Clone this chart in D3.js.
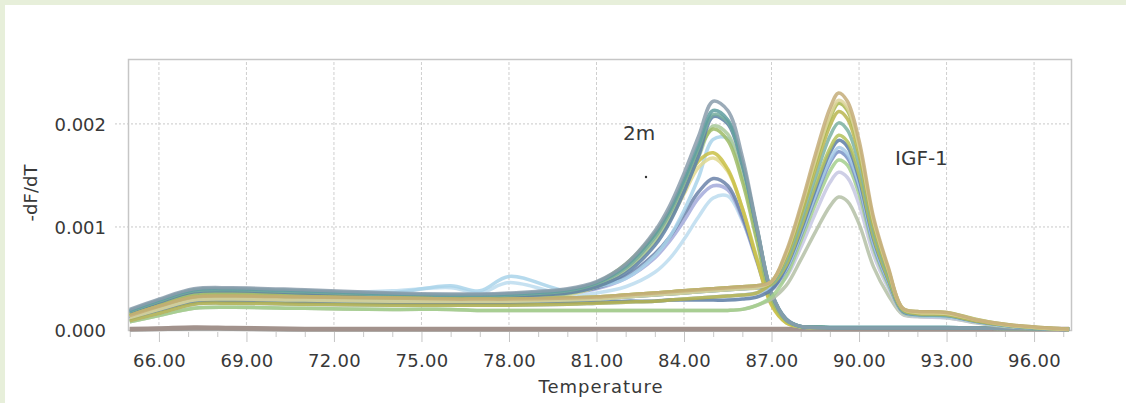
<!DOCTYPE html>
<html>
<head>
<meta charset="utf-8">
<script src="https://cdn.jsdelivr.net/npm/d3@7"></script>
<style>
  html, body { margin: 0; padding: 0; background: #e7efda; }
  svg { display: block; }
  text { font-family: "DejaVu Sans", Verdana, sans-serif; fill: #383838; }
</style>
</head>
<body>
<svg id="chart" width="1126" height="403"></svg>
<script>
// Melt-curve derivative (-dF/dT) per well; values are in units of 1e-4.
const temperatures = [65, 66, 67.2, 68.5, 71, 74, 76, 77, 78, 80, 81, 82, 83, 83.5, 84, 84.5, 85, 85.5, 86, 86.5, 87, 87.5, 88, 88.5, 89, 89.3, 89.6, 90, 90.5, 91, 91.5, 92, 93, 94, 95, 96, 97.2];

// β2-microglobulin (2m) wells, product peak near 85 °C
const m2A = [2.0,3.0,4.0,4.1,3.9,3.6,3.5,3.5,3.6,4.0,4.7,6.4,9.6,12.0,15.2,18.8,22.2,21.3,16.8,10.0,3.6,1.0,0.35, 0.25,0.2,0.2,0.2,0.2,0.2,0.2,0.2,0.2,0.2,0.2,0.15,0.15,0.1];
const m2B = [1.9,2.9,3.9,4.0,3.8,3.5,3.4,3.4,3.5,3.9,4.6,6.2,9.3,11.6,14.6,18.0,21.3,20.4,16.2,9.8,3.5,1.0,0.35, 0.3,0.25,0.25,0.25,0.25,0.25,0.25,0.25,0.25,0.25,0.2,0.2,0.15,0.1];
const m2C = [1.7,2.7,3.7,3.8,3.6,3.3,3.2,3.2,3.3,3.6,4.2,5.5,8.2,10.4,13.4,16.9,20.7,20.0,16.0,9.8,3.6,1.1,0.35, 0.25,0.2,0.2,0.2,0.2,0.2,0.2,0.2,0.2,0.2,0.2,0.15,0.15,0.1];
const m2D = [1.5,2.4,3.3,3.4,3.3,3.1,3.0,3.0,3.1,3.5,4.2,5.8,8.6,10.8,13.6,16.8,19.8,19.0,15.0,9.0,3.2,1.0,0.3, 0.25,0.2,0.2,0.2,0.2,0.2,0.2,0.2,0.2,0.2,0.2,0.15,0.15,0.1];
const m2E = [1.6,2.5,3.4,3.5,3.4,3.6,4.3,3.8,5.2,3.8,4.2,5.0,7.2,9.0,11.6,14.8,18.5,18.6,15.2,9.4,3.4,1.0,0.3, 0.3,0.25,0.25,0.25,0.25,0.25,0.25,0.25,0.25,0.25,0.2,0.2,0.15,0.1];
const m2F = [1.4,2.2,3.0,3.1,3.0,2.9,2.9,2.9,3.0,3.6,4.5,6.3,9.2,11.2,13.8,16.4,17.2,15.6,11.8,6.8,2.4,0.7,0.3, 0.25,0.2,0.2,0.2,0.2,0.2,0.2,0.2,0.2,0.2,0.2,0.15,0.15,0.1];
const m2G = [1.3,2.1,2.9,3.0,2.9,2.8,2.8,2.8,2.9,3.4,4.2,5.8,8.6,10.6,13.2,15.8,16.7,15.4,11.8,7.0,2.5,0.7,0.3, 0.25,0.2,0.2,0.2,0.2,0.2,0.2,0.2,0.2,0.2,0.2,0.15,0.15,0.1];
const m2H = [1.8,2.8,3.7,3.8,3.6,3.3,3.2,3.2,3.3,3.6,4.1,5.2,7.4,9.0,11.2,13.4,14.7,14.0,11.0,6.8,2.6,0.8,0.3, 0.25,0.2,0.2,0.2,0.2,0.2,0.2,0.2,0.2,0.2,0.2,0.15,0.15,0.1];
const m2I = [1.6,2.5,3.4,3.5,3.4,3.2,3.3,3.4,3.5,3.6,4.0,5.0,7.0,8.6,10.6,12.8,14.0,13.6,10.8,6.6,2.6,0.8,0.3, 0.25,0.2,0.2,0.2,0.2,0.2,0.2,0.2,0.2,0.2,0.2,0.15,0.15,0.1];
const m2J = [1.5,2.4,3.3,3.4,3.5,3.8,4.1,3.6,4.6,3.4,3.6,4.2,5.6,6.9,8.8,11.0,12.8,13.0,10.6,6.8,2.8,0.9,0.3, 0.3,0.25,0.25,0.25,0.25,0.25,0.25,0.25,0.25,0.25,0.2,0.2,0.15,0.1];
const m2K = [1.6,2.6,3.5,3.6,3.5,3.3,3.2,3.2,3.3,3.8,4.6,6.4,9.4,11.6,14.4,17.4,19.5,18.4,14.4,8.6,3.0,0.9,0.3, 0.25,0.2,0.2,0.2,0.2,0.2,0.2,0.2,0.2,0.2,0.2,0.15,0.15,0.1];
const m2L = [1.8,2.8,3.8,3.9,3.7,3.4,3.3,3.3,3.4,3.8,4.5,6.0,9.0,11.3,14.3,17.7,20.9,20.2,16.2,9.9,3.6,1.0,0.35, 0.3,0.25,0.25,0.25,0.25,0.25,0.25,0.25,0.25,0.25,0.2,0.2,0.15,0.1];

// IGF-1 wells, product peak near 89.3 °C
const igfA = [1.4,2.3,3.2,3.3,3.2,3.1,3.0,3.0,3.0,3.1,3.2,3.4,3.6,3.7,3.8,3.9,4.0,4.1,4.2,4.3, 4.7,7.6,12.0,17.0,21.5,23.0,22.2,18.4,10.9,6.1,2.1, 1.8,1.7,1.0,0.55,0.3,0.08];
const igfB = [1.2,2.0,2.9,3.0,2.9,2.8,2.8,2.8,2.8,2.9,3.0,3.2,3.4,3.5,3.6,3.7,3.8,3.9,4.0,4.1, 4.7,7.4,11.7,16.5,20.8,22.3,21.6,17.8,10.6,5.9,2.1, 1.7,1.6,1.0,0.5,0.25,0.06];
const igfC = [0.9,1.6,2.5,2.6,2.5,2.4,2.4,2.4,2.4,2.5,2.6,2.7,2.8,2.9,3.0,3.1,3.2,3.3,3.4,3.6, 4.6,7.1,11.1,15.6,19.8,21.2,20.5,17.0,10.1,5.7,2.0, 1.6,1.5,0.9,0.5,0.25,0.05];
const igfD = [1.2,2.0,2.9,3.0,2.9,2.8,2.8,2.8,2.8,2.9,3.0,3.2,3.4,3.5,3.6,3.7,3.8,3.9,4.0,4.1, 4.5,6.7,10.5,14.8,18.8,20.1,19.4,16.1,9.6,5.4,1.9, 1.5,1.4,0.9,0.45,0.2,0.05];
const igfE = [1.4,2.3,3.2,3.3,3.2,3.1,3.0,3.0,3.0,3.1,3.2,3.4,3.6,3.7,3.8,3.9,4.0,4.1,4.2,4.3, 4.4,6.3,9.9,14.0,17.6,18.9,18.3,15.1,9.0,5.0,1.9, 1.6,1.5,0.9,0.5,0.25,0.05];
const igfF = [1.1,1.9,2.7,2.8,2.7,2.6,2.6,2.6,2.6,2.7,2.7,2.8,2.8,2.9,2.9,2.9,2.9,2.9,3.0,3.2, 3.9,6.1,9.6,13.6,17.2,18.4,17.8,14.7,8.8,4.9,1.8, 1.5,1.4,0.85,0.45,0.2,0.05];
const igfG = [0.9,1.6,2.5,2.6,2.5,2.4,2.4,2.4,2.4,2.5,2.6,2.7,2.8,2.9,3.0,3.1,3.2,3.3,3.4,3.6, 4.2,5.9,9.3,13.1,16.5,17.7,17.1,14.2,8.4,4.7,1.8, 1.4,1.3,0.8,0.4,0.2,0.05];
const igfH = [1.2,2.0,2.9,3.0,2.9,2.8,2.8,2.8,2.8,2.9,3.0,3.2,3.4,3.5,3.6,3.7,3.8,3.9,4.0,4.1, 4.1,5.8,9.1,12.8,16.2,17.3,16.7,13.8,8.2,4.6,1.8, 1.5,1.4,0.85,0.45,0.2,0.05];
const igfI = [0.8,1.4,2.1,2.2,2.1,2.0,2.0,1.9,1.9,1.9,1.9,1.9,1.9,1.9,1.9,1.9,1.9,1.9,2.0,2.4, 3.2,5.2,8.6,12.2,15.4,16.5,16.0,13.2,7.9,4.4,1.7, 1.4,1.3,0.8,0.4,0.2,0.05];
const igfJ = [0.9,1.6,2.5,2.6,2.5,2.4,2.4,2.4,2.4,2.5,2.6,2.7,2.8,2.9,3.0,3.1,3.2,3.3,3.4,3.6, 3.9,5.1,8.0,11.3,14.3,15.3,14.8,12.2,7.3,4.1,1.6, 1.3,1.2,0.75,0.4,0.2,0.05];
const igfK = [0.8,1.4,2.1,2.2,2.1,2.0,2.0,1.9,1.9,1.9,1.9,1.9,1.9,1.9,1.9,1.9,1.9,1.9,2.0,2.4, 3.0,4.3,6.8,9.5,12.0,12.9,12.5,10.3,6.1,3.4,1.5, 1.3,1.2,0.7,0.35,0.2,0.05];
const igfL = [1.4,2.3,3.2,3.3,3.2,3.1,3.0,3.0,3.0,3.1,3.2,3.4,3.6,3.7,3.8,3.9,4.0,4.1,4.2,4.3, 4.7,7.3,11.5,16.2,20.5,22.0,21.3,17.6,10.5,5.9,2.1, 1.8,1.7,1.05,0.55,0.3,0.08];

// No-template controls (flat near zero)
const ntcA = [0.1,0.15,0.25,0.2,0.1,0.1,0.1,0.1,0.1,0.1,0.1,0.1,0.1,0.1,0.1,0.1,0.1,0.1,0.1,0.1,0.1,0.1,0.1,0.1,0.1,0.1,0.1,0.1,0.1,0.1,0.1,0.1,0.1,0.1,0.1,0.1,0.1];
const ntcB = [0.05,0.1,0.15,0.12,0.05,0.05,0.05,0.05,0.05,0.05,0.05,0.05,0.05,0.05,0.05,0.05,0.05,0.05,0.05,0.05,0.05,0.05,0.05,0.05,0.05,0.05,0.05,0.05,0.05,0.05,0.05,0.05,0.05,0.05,0.05,0.05,0.05];

const xMajorTicks = [66, 69, 72, 75, 78, 81, 84, 87, 90, 93, 96];
const xMinorTicks = [65, 67, 68, 70, 71, 73, 74, 76, 77, 79, 80, 82, 83, 85, 86, 88, 89, 91, 92, 94, 95, 97];
const yTicks = [0, 0.001, 0.002];

// Drawing order and colours of the wells
const wells = [
  [ntcB, "#9d9b98"], [ntcA, "#a2928c"],
  [m2J, "#bcdcee"], [m2I, "#a3aadb"], [m2H, "#6b82a9"], [m2E, "#a9d3ea"],
  [m2G, "#e0d88e"], [m2F, "#c9c045"], [m2D, "#a9c99a"], [m2K, "#9dbb66"],
  [m2C, "#5d80a6"], [m2L, "#78ae9e"], [m2B, "#5f9ea0"], [m2A, "#8a9cab"],
  [igfK, "#b4bfa6"], [igfJ, "#c5c7e2"], [igfI, "#a3cf8d"], [igfH, "#7891c6"],
  [igfG, "#a6cae6"], [igfF, "#5c7ca5"], [igfE, "#b4c25a"], [igfD, "#7db1a1"],
  [igfC, "#b8b54e"], [igfL, "#a8b74f"], [igfB, "#ddd49b"], [igfA, "#c4ad79"]
];
const controls = new Set([ntcA, ntcB]);

const svg = d3.select("#chart");
const plot = { left: 128, top: 59, right: 1072, bottom: 330 };

svg.append("rect").attr("x", 5).attr("y", 5).attr("width", 1121).attr("height", 398).attr("fill", "#ffffff");

const x = d3.scaleLinear().domain([64.94, 97.3]).range([plot.left, plot.right]);
const y = d3.scaleLinear().domain([0, 0.00263]).range([plot.bottom, plot.top]);

// grid
svg.append("g").selectAll("line").data(xMajorTicks).join("line")
  .attr("x1", d => x(d)).attr("x2", d => x(d))
  .attr("y1", plot.top + 3).attr("y2", plot.bottom)
  .attr("stroke", "#cfcfcf").attr("stroke-dasharray", "3,2").attr("stroke-width", 1);
svg.append("g").selectAll("line").data(yTicks.filter(d => d > 0)).join("line")
  .attr("x1", 115).attr("x2", plot.right)
  .attr("y1", d => y(d)).attr("y2", d => y(d))
  .attr("stroke", "#c8c8c8").attr("stroke-dasharray", "2,2").attr("stroke-width", 1);

// frame
svg.append("rect")
  .attr("x", plot.left + 0.5).attr("y", plot.top + 0.5)
  .attr("width", plot.right - plot.left - 1).attr("height", plot.bottom - plot.top)
  .attr("fill", "none").attr("stroke", "#c6c6c6").attr("stroke-width", 1.5);

// x axis
const xAxis = d3.axisBottom(x).tickValues(xMajorTicks).tickSize(10).tickPadding(12)
  .tickFormat(d3.format(".2f"));
const gx = svg.append("g").attr("transform", `translate(0,${plot.bottom + 2})`).call(xAxis);
gx.select(".domain").remove();
gx.selectAll(".tick line").attr("stroke", "#c4c4c4");
gx.selectAll(".tick text").attr("font-size", 18).attr("letter-spacing", "0.3px")
  .attr("fill", "#383838").attr("font-family", "DejaVu Sans, Verdana, sans-serif");

const xMinor = d3.axisBottom(x).tickValues(xMinorTicks).tickSize(5).tickFormat("");
const gxm = svg.append("g").attr("transform", `translate(0,${plot.bottom + 2})`).call(xMinor);
gxm.select(".domain").remove();
gxm.selectAll(".tick line").attr("stroke", "#c8c8c8");

// y axis labels
const yAxis = d3.axisLeft(y).tickValues(yTicks).tickSize(0).tickPadding(22)
  .tickFormat(d3.format(".3f"));
const gy = svg.append("g").attr("transform", `translate(${plot.left},0)`).call(yAxis);
gy.select(".domain").remove();
gy.selectAll(".tick text").attr("font-size", 18).attr("fill", "#383838")
  .attr("dy", "0.36em").attr("font-family", "DejaVu Sans, Verdana, sans-serif");

// curves
svg.append("clipPath").attr("id", "plotClip").append("rect")
  .attr("x", plot.left + 1).attr("y", plot.top).attr("width", plot.right - plot.left - 1)
  .attr("height", plot.bottom - plot.top + 3);

const line = d3.line()
  .x((d, i) => x(temperatures[i]))
  .y(d => y(d / 1e4))
  .curve(d3.curveCatmullRom.alpha(0.5));

svg.append("g").attr("clip-path", "url(#plotClip)")
  .selectAll("path").data(wells).join("path")
  .attr("d", d => line(d[0]))
  .attr("fill", "none")
  .attr("stroke", d => d[1])
  .attr("stroke-width", d => controls.has(d[0]) ? 4.5 : 3.5)
  .attr("stroke-opacity", d => controls.has(d[0]) ? 1 : 0.85)
  .attr("stroke-linejoin", "round");

// axis titles
svg.append("text").attr("x", 601).attr("y", 393).attr("text-anchor", "middle")
  .attr("font-size", 18).attr("letter-spacing", "1px").text("Temperature");
svg.append("text").attr("transform", "translate(37,193) rotate(-90)")
  .attr("text-anchor", "middle").attr("font-size", 18).text("-dF/dT");

// product annotations
svg.append("text").attr("x", 623).attr("y", 140).attr("font-size", 20).text("2m");
svg.append("circle").attr("cx", 646).attr("cy", 177).attr("r", 1.2).attr("fill", "#333");
svg.append("text").attr("x", 895).attr("y", 165).attr("font-size", 20).text("IGF-1");
</script>
</body>
</html>
